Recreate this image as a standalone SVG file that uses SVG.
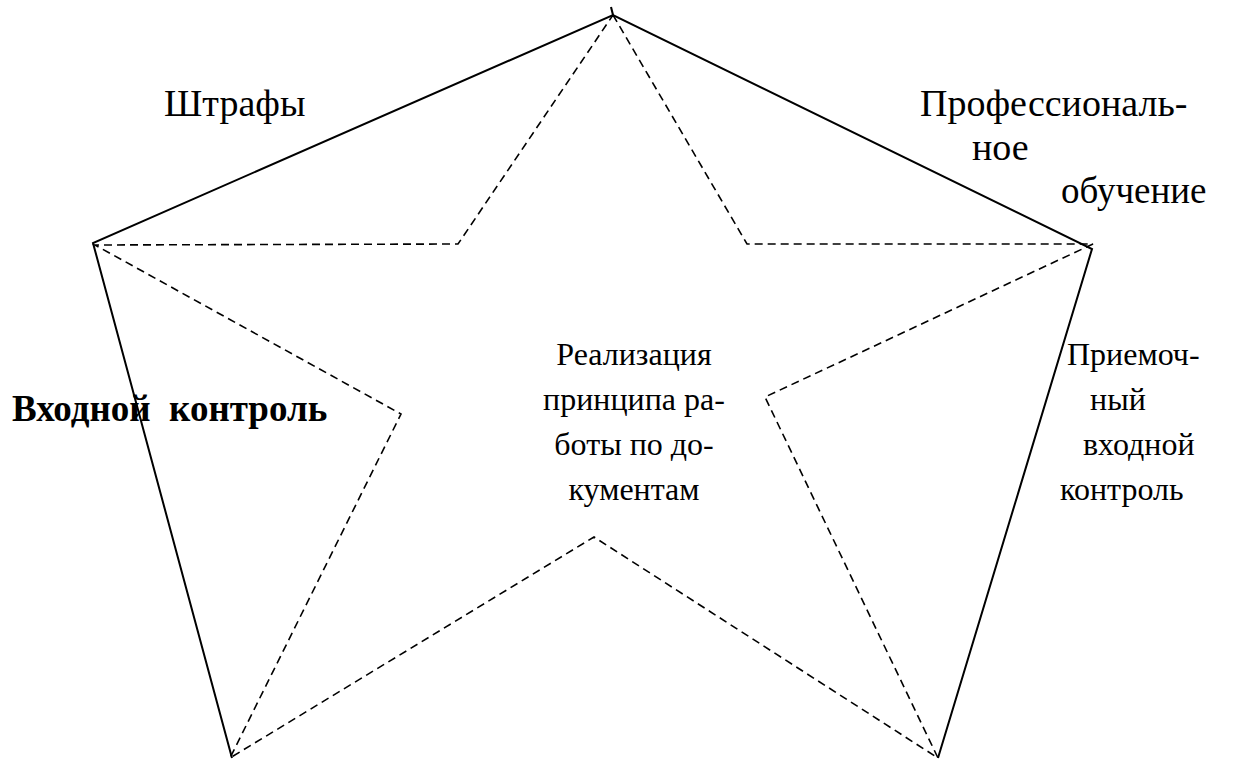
<svg xmlns="http://www.w3.org/2000/svg" width="1234" height="760" viewBox="0 0 1234 760">
<style>
.solid{fill:none;stroke:#000;stroke-width:2;stroke-linejoin:miter}
.dash{fill:none;stroke:#000;stroke-width:1.6;stroke-dasharray:8 5}
text{font-family:'Liberation Serif','Times New Roman',serif;font-size:32px;fill:#000}
.l{font-size:38px}
.b{font-weight:bold;font-size:37px}
</style>
<rect width="1234" height="760" fill="#fff"/>
<g id="connectors">
<polyline class="solid" points="232,758 93,243 613,15 1092,249 938,758"/>
<line class="solid" x1="613" y1="15" x2="611" y2="7"/>
<polygon class="dash" points="613,15 747,244 1093,244 765,397 938,758 594,537 230,758 401,414 95,245 458,244"/>
</g>
<g id="node-shtrafy"><text class="l" x="164" y="116">Штрафы</text></g>
<g id="node-prof"><text class="l" x="920" y="116">Профессиональ-</text><text class="l" x="972" y="160">ное</text><text class="l" x="1061" y="203" style="font-size:37px">обучение</text></g>
<g id="node-center"><text x="634" y="365" text-anchor="middle">Реализация</text><text x="634" y="410" text-anchor="middle">принципа ра-</text><text x="634" y="455" text-anchor="middle">боты по до-</text><text x="634" y="500" text-anchor="middle">кументам</text></g>
<g id="node-vhod"><text class="b" x="12" y="421" xml:space="preserve">Входной  контроль</text></g>
<g id="node-priem"><text x="1067" y="365">Приемоч-</text><text x="1090" y="410">ный</text><text x="1083" y="455">входной</text><text x="1060" y="500">контроль</text></g>
</svg>
